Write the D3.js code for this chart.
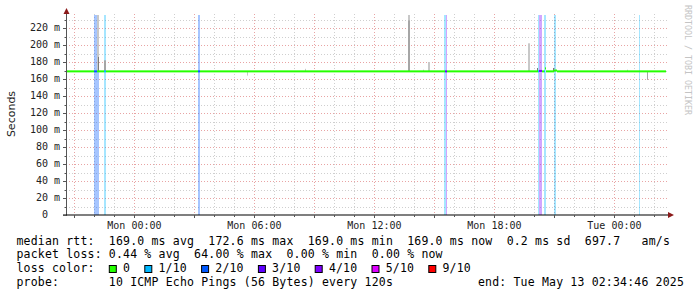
<!DOCTYPE html>
<html>
<head>
<meta charset="utf-8">
<script src="https://cdn.jsdelivr.net/npm/d3@7"></script>
<style>
  body { margin: 0; background: #fff; }
  svg { display: block; }
  .mono { font-family: "DejaVu Sans Mono", monospace; }
</style>
</head>
<body>
<svg id="chart" width="697" height="297"></svg>
<script>
// graph window
var startTime = "2025-05-11 20:34:46";
var endTime = "2025-05-13 02:34:46";

// packet loss periods, lost pings out of 10
var lossStart = ["2025-05-11 21:58:46", "2025-05-11 22:28:46", "2025-05-12 03:10:46", "2025-05-12 15:28:46", "2025-05-12 15:34:46",
                 "2025-05-12 20:10:46", "2025-05-12 20:13:46", "2025-05-12 20:28:46", "2025-05-12 20:58:46", "2025-05-13 01:13:46"];
var lossEnd   = ["2025-05-11 22:13:46", "2025-05-11 22:34:46", "2025-05-12 03:16:46", "2025-05-12 15:34:46", "2025-05-12 15:37:46",
                 "2025-05-12 20:13:46", "2025-05-12 20:22:46", "2025-05-12 20:34:46", "2025-05-12 21:04:46", "2025-05-13 01:16:46"];
var lossCount = [2, 1, 2, 1, 4, 1, 4, 1, 1, 1];

// median rtt (ms), one step per start time, runs until the next one
var medianStart = ["2025-05-11 20:34:46", "2025-05-11 21:58:46", "2025-05-11 22:07:46", "2025-05-11 22:28:46", "2025-05-11 22:34:46",
                   "2025-05-12 03:10:46", "2025-05-12 03:16:46", "2025-05-12 15:31:46", "2025-05-12 15:37:46", "2025-05-12 20:10:46",
                   "2025-05-12 20:13:46", "2025-05-12 20:22:46", "2025-05-12 20:28:46", "2025-05-12 20:31:46", "2025-05-12 20:34:46",
                   "2025-05-12 20:58:46", "2025-05-12 21:07:46"];
var medianRtt  = [169, 169, 169, 169, 169, 169, 169, 169, 169, 169, 169.5, 169, 169, 172.5, 169, 170, 169];
var medianLoss = [0, 2, 0, 1, 0, 2, 0, 3, 0, 1, 4, 0, 1, 0, 0, 0, 0];

// smoke: spread of the single pings (ms), depth = how many pings fall there
var smokeStart = ["2025-05-11 22:07:46", "2025-05-11 22:10:46", "2025-05-11 22:28:46", "2025-05-12 05:37:46", "2025-05-12 08:31:46",
                  "2025-05-12 13:40:46", "2025-05-12 13:40:46", "2025-05-12 14:25:46", "2025-05-12 14:40:46", "2025-05-12 19:40:46",
                  "2025-05-12 20:07:46", "2025-05-12 20:55:46", "2025-05-13 00:37:46", "2025-05-13 01:37:46"];
var smokeEnd   = ["2025-05-11 22:13:46", "2025-05-11 22:13:46", "2025-05-11 22:34:46", "2025-05-12 05:40:46", "2025-05-12 08:34:46",
                  "2025-05-12 13:46:46", "2025-05-12 13:46:46", "2025-05-12 14:28:46", "2025-05-12 14:46:46", "2025-05-12 19:46:46",
                  "2025-05-12 20:10:46", "2025-05-12 20:58:46", "2025-05-13 00:40:46", "2025-05-13 01:40:46"];
var smokeLo    = [169, 169, 169, 164, 169, 169, 169, 169, 169, 169, 169, 169, 169, 159];
var smokeHi    = [260, 186, 182, 169, 172, 260, 229, 171, 180, 202, 173, 173, 171, 169];
var smokeDepth = [1, 3, 2, 1, 1, 1, 2, 1, 1, 1, 3, 3, 1, 2];

// axes
var yTicks = [0, 20, 40, 60, 80, 100, 120, 140, 160, 180, 200, 220];
var xLabels = ["2025-05-12 00:00:00", "2025-05-12 06:00:00", "2025-05-12 12:00:00", "2025-05-12 18:00:00", "2025-05-13 00:00:00"];

// loss colour legend
var lossLabels = ["0", "1/10", "2/10", "3/10", "4/10", "5/10", "9/10"];
var lossFrom   = [0, 1, 2, 3, 4, 5, 9];
var lossColors = ["#26ff00", "#00b8ff", "#0059ff", "#5e00ff", "#7e00ff", "#dd00ff", "#ff0000"];

// legend text
var rttLine   = "median rtt:  169.0 ms avg  172.6 ms max  169.0 ms min  169.0 ms now  0.2 ms sd  697.7   am/s";
var lossLine  = "packet loss: 0.44 % avg  64.00 % max  0.00 % min  0.00 % now";
var colorHead = "loss color:";
var probeLine = "probe:       10 ICMP Echo Pings (56 Bytes) every 120s";
var endLine   = "end: Tue May 13 02:34:46 2025";

var parse = d3.timeParse("%Y-%m-%d %H:%M:%S");
var svg = d3.select("#chart");

var x = d3.scaleTime().domain([parse(startTime), parse(endTime)]).range([66, 666]);
var y = d3.scaleLinear().domain([0, 236.5]).range([215, 14]);
var plotTop = 14, plotBottom = 215;

function lossColor(n) {
  var i = d3.bisectRight(lossFrom, n) - 1;
  return lossColors[Math.max(0, i)];
}

svg.append("rect").attr("width", 697).attr("height", 297).attr("fill", "#fff");

// grid
var g = svg.append("g");
var hours = d3.timeHour.range(x.domain()[0], x.domain()[1]);
g.selectAll(".vg").data(hours).enter().append("line")
  .attr("x1", d => Math.round(x(d)) + 0.5).attr("x2", d => Math.round(x(d)) + 0.5)
  .attr("y1", plotTop).attr("y2", plotBottom)
  .attr("stroke", d => d.getHours() % 3 == 0 ? "#e8a4a4" : "#cfcfcf")
  .attr("stroke-dasharray", "1,2");
var hLines = d3.range(10, 236, 10);
g.selectAll(".hg").data(hLines).enter().append("line")
  .attr("x1", 66).attr("x2", 667)
  .attr("y1", d => Math.round(y(d)) + 0.5).attr("y2", d => Math.round(y(d)) + 0.5)
  .attr("stroke", d => d % 20 == 0 ? "#e8a4a4" : "#cfcfcf")
  .attr("stroke-dasharray", "1,2");

// loss bars
svg.append("g").selectAll("rect").data(lossCount).enter().append("rect")
  .attr("x", (d, i) => x(parse(lossStart[i])))
  .attr("width", (d, i) => x(parse(lossEnd[i])) - x(parse(lossStart[i])))
  .attr("y", plotTop + 1).attr("height", plotBottom - plotTop - 1)
  .attr("fill", d => lossColor(d)).attr("fill-opacity", 0.35);

// smoke
var greys = ["#ffffff", "#c8c8c8", "#a6a6a6", "#7a7a7a"];
svg.append("g").selectAll("rect").data(smokeDepth).enter().append("rect")
  .attr("x", (d, i) => x(parse(smokeStart[i])))
  .attr("width", (d, i) => x(parse(smokeEnd[i])) - x(parse(smokeStart[i])))
  .attr("y", (d, i) => Math.max(plotTop + 1, y(smokeHi[i])))
  .attr("height", (d, i) => y(smokeLo[i]) - Math.max(plotTop + 1, y(smokeHi[i])))
  .attr("fill", d => greys[d]);

// median
var medEnd = medianStart.slice(1).concat([endTime]);
svg.append("g").selectAll("rect").data(medianRtt).enter().append("rect")
  .attr("x", (d, i) => x(parse(medianStart[i])))
  .attr("width", (d, i) => x(parse(medEnd[i])) - x(parse(medianStart[i])))
  .attr("y", d => y(d) - 1).attr("height", 2)
  .attr("fill", (d, i) => lossColor(medianLoss[i]));

// axes
var ax = svg.append("g");
ax.append("line").attr("x1", 66.5).attr("x2", 66.5).attr("y1", 11).attr("y2", 216).attr("stroke", "#555");
ax.append("line").attr("x1", 63).attr("x2", 670).attr("y1", 215).attr("y2", 215).attr("stroke", "#000").attr("stroke-width", 1.2);
ax.selectAll(".yt").data(hLines.concat([0])).enter().append("line")
  .attr("x1", d => d % 20 == 0 ? 63 : 64.5).attr("x2", 66.5)
  .attr("y1", d => Math.round(y(d)) + 0.5).attr("y2", d => Math.round(y(d)) + 0.5)
  .attr("stroke", "#555");
ax.selectAll(".xt").data(hours).enter().append("line")
  .attr("x1", d => Math.round(x(d)) + 0.5).attr("x2", d => Math.round(x(d)) + 0.5)
  .attr("y1", 215).attr("y2", d => d.getHours() % 3 == 0 ? 218 : 217)
  .attr("stroke", "#555");
ax.append("path").attr("d", "M66.5,8 L63.5,14 L69.5,14 Z").attr("fill", "#8b1a1a");
ax.append("path").attr("d", "M674,215 L668,212 L668,218 Z").attr("fill", "#8b1a1a");

// tick labels
ax.selectAll(".yl").data(yTicks).enter().append("text")
  .attr("class", "mono").attr("font-size", "10px").attr("fill", "#222")
  .attr("text-anchor", "end").attr("x", 60).attr("y", d => y(d)).attr("dy", "0.34em")
  .text(d => d == 0 ? "0\u00a0\u00a0" : d + " m");
var fmt = d3.timeFormat("%a %H:%M");
ax.selectAll(".xl").data(xLabels).enter().append("text")
  .attr("class", "mono").attr("font-size", "10px").attr("fill", "#222")
  .attr("text-anchor", "middle").attr("x", d => x(parse(d))).attr("y", 228.5)
  .text(d => fmt(parse(d)));

svg.append("text").attr("font-family", "DejaVu Sans").attr("font-size", "11px").attr("fill", "#222")
  .attr("text-anchor", "middle").attr("transform", "translate(15,114) rotate(-90)")
  .text("Seconds");

svg.append("text").attr("class", "mono").attr("font-size", "8.3px").attr("fill", "#c4c4c4")
  .attr("transform", "translate(685,5) rotate(90)")
  .text("RRDTOOL / TOBI OETIKER");

// legend
var cw = 7.1, lx = 16.5;
function legendText(str, xx, yy) {
  return svg.append("text").attr("class", "mono").attr("font-size", "11.5px")
    .attr("letter-spacing", "0.18px").attr("fill", "#000")
    .attr("xml:space", "preserve").style("white-space", "pre")
    .attr("x", xx).attr("y", yy).text(str);
}
legendText(rttLine, lx, 244.5);
legendText(lossLine, lx, 258);
legendText(colorHead, lx, 271.5);
legendText(probeLine, lx, 285.5);
legendText(endLine, 478, 285.5);

var pos = 13;
lossLabels.forEach(function (lab, i) {
  var sx = lx + pos * cw;
  svg.append("rect").attr("x", sx + 0.5).attr("y", 265.5).attr("width", 7).attr("height", 7)
    .attr("fill", lossColors[i]).attr("stroke", "#000");
  legendText(lab, lx + (pos + 2) * cw, 271.5);
  pos += 2 + lab.length + 2;
});
</script>
</body>
</html>
